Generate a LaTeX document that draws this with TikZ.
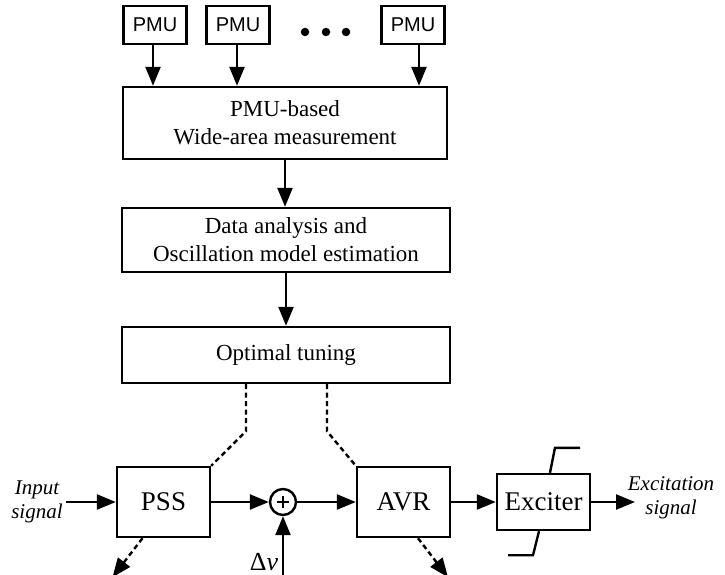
\documentclass[tikz,border=0pt]{standalone}
\usepackage{fontspec}
\setmainfont{Liberation Serif}
\newfontfamily\pmufont{Liberation Sans}
\usetikzlibrary{arrows.meta}
\begin{document}
\begin{tikzpicture}[x=1pt,y=-1pt,
  line width=2.4pt,
  box/.style={draw, line width=2.4pt, inner sep=0pt, align=center},
  pmubox/.style={box, minimum width=63pt, minimum height=38pt, font=\pmufont\fontsize{20}{22}\selectfont},
  bigbox/.style={box, font=\fontsize{23}{28}\selectfont},
  blk/.style={box, minimum width=93pt, minimum height=70pt, font=\fontsize{27}{30}\selectfont},
  arr/.style={-{Triangle[length=19pt,width=15pt]}, line width=2.4pt},
  dsh/.style={dash pattern=on 5pt off 3.5pt, line width=2.4pt},
  lbl/.style={align=center, font=\itshape\fontsize{21}{24}\selectfont, inner sep=0pt},
  dot/.style={circle, fill, inner sep=0pt, minimum size=8.5pt}
]
\useasboundingbox (0,0) rectangle (725,575);

% PMUs
\node[pmubox] (p1) at (155,25) {PMU};
\node[pmubox] (p2) at (238,25) {PMU};
\node[pmubox] (p3) at (413,25) {PMU};
\node[dot] (d1) at (305,32) {};
\node[dot] (d2) at (326,32) {};
\node[dot] (d3) at (346,32) {};

% main boxes
\node[bigbox, minimum width=324pt, minimum height=72pt] (wam) at (285,123) {PMU-based\\Wide-area measurement};
\node[bigbox, minimum width=328pt, minimum height=64pt] (dat) at (286,240) {Data analysis and\\Oscillation model estimation};
\node[bigbox, minimum width=328pt, minimum height=56pt] (opt) at (286,355) {Optimal tuning};

\draw[arr] ([xshift=-2pt]p1.south) -- ([xshift=-2pt]p1.south |- wam.north);
\draw[arr] ([xshift=-1pt]p2.south) -- ([xshift=-1pt]p2.south |- wam.north);
\draw[arr] ([xshift=6pt]p3.south) -- ([xshift=6pt]p3.south |- wam.north);
\draw[arr] (wam.south) -- (wam.south |- dat.north);
\draw[arr] (dat.south) -- (dat.south |- opt.north);

% control loop
\node[blk] (pss) at (163.5,502) {PSS};
\node[draw, circle, minimum size=26pt, inner sep=0pt, line width=2.4pt] (sum) at (283,502) {};
\draw[line width=1.8pt] ([xshift=-6pt]sum.center) -- ([xshift=6pt]sum.center);
\draw[line width=1.8pt] ([yshift=-6pt]sum.center) -- ([yshift=6pt]sum.center);
\node[blk] (avr) at (403.5,502) {AVR};
\node[blk, minimum height=56pt] (exc) at (543.5,502) {Exciter};

\node[lbl] (inp) at (37,502) {Input\\signal};
\coordinate (inS) at (66,502);
\draw[arr] (inS) -- (pss.west);
\draw[arr] (pss.east) -- (sum.west);
\draw[arr] (sum.east) -- (avr.west);
\draw[arr] (avr.east) -- (exc.west);
\coordinate (outE) at (635,502);
\draw[arr] (exc.east) -- (outE);
\node[lbl] (outl) at (671,498) {Excitation\\signal};

\node[font=\fontsize{26}{28}\selectfont, inner sep=0pt] (dv) at (264,562) {Δ\textit{v}};
\coordinate (dvS) at (283,576);
\draw[arr] (dvS) -- (sum.south);

% dashed tuning links
\draw[dsh] ([xshift=-40pt]opt.south) -- ++(0,47) -- (pss.north east);
\draw[dsh] ([xshift=41pt]opt.south) -- ++(0,47) -- (avr.north west);
\draw[dsh, arr] ([xshift=-21pt]pss.south) -- ++(-30,39);
\draw[dsh, arr] ([xshift=14.5pt]avr.south) -- ++(30,39);

% limiter
\draw ([xshift=6.5pt]exc.north) -- ++(5,-25) -- ++(25,0);
\draw ([xshift=-4.5pt]exc.south) -- ++(-6,24) -- ++(-25,0);
\end{tikzpicture}
\end{document}
